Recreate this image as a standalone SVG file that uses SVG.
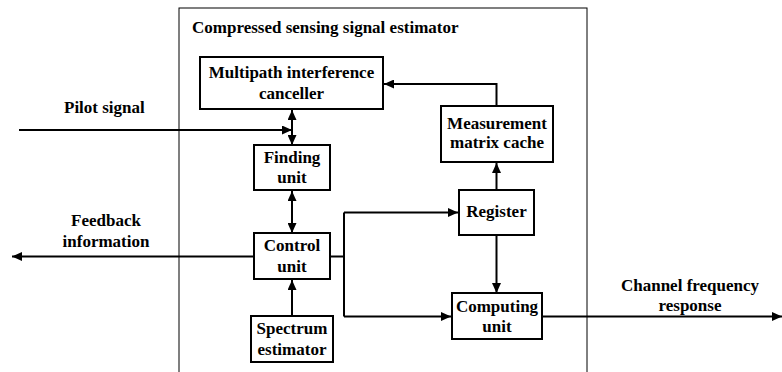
<svg xmlns="http://www.w3.org/2000/svg" width="782" height="372" viewBox="0 0 782 372">
<style>
text{font-family:"Liberation Serif","Times New Roman",serif;font-weight:bold;font-size:17px;fill:#000}
.c{text-anchor:middle}
.box{fill:#fff;stroke:#000;stroke-width:2}
.ln{fill:none;stroke:#000;stroke-width:2}
</style>
<defs>
<marker id="ah" markerUnits="userSpaceOnUse" markerWidth="11" markerHeight="9" refX="10" refY="4.5" orient="auto-start-reverse">
<path d="M0,0 L10,4.5 L0,9 z" fill="#000"/>
</marker>
</defs>
<rect width="782" height="372" fill="#fff"/>
<g id="estimator">
<rect x="179" y="8" width="408" height="380" fill="none" stroke="#000" stroke-width="1"/>
<text x="192" y="33">Compressed sensing signal estimator</text>
</g>
<g id="connectors">
<path class="ln" d="M19,130 H292" marker-end="url(#ah)"/>
<path class="ln" d="M292,110 V145" marker-start="url(#ah)" marker-end="url(#ah)"/>
<path class="ln" d="M292,191 V233" marker-start="url(#ah)" marker-end="url(#ah)"/>
<path class="ln" d="M254,256.5 H12" marker-end="url(#ah)"/>
<path class="ln" d="M292,316 V280" marker-end="url(#ah)"/>
<path class="ln" d="M331,256.5 H344"/>
<path class="ln" d="M344,212.5 V316.5"/>
<path class="ln" d="M344,212.5 H458" marker-end="url(#ah)"/>
<path class="ln" d="M344,316.5 H451" marker-end="url(#ah)"/>
<path class="ln" d="M496.5,190 V163" marker-end="url(#ah)"/>
<path class="ln" d="M496.5,106 V84 H384" marker-end="url(#ah)"/>
<path class="ln" d="M496.5,235 V293" marker-end="url(#ah)"/>
<path class="ln" d="M542,316.5 H782" marker-end="url(#ah)"/>
</g>
<g id="multipath">
<rect class="box" x="200" y="57" width="183" height="52"/>
<text class="c" x="291.5" y="78">Multipath interference</text>
<text class="c" x="291.5" y="99">canceller</text>
</g>
<g id="finding">
<rect class="box" x="254" y="145" width="76" height="45"/>
<text class="c" x="292" y="163">Finding</text>
<text class="c" x="292" y="183">unit</text>
</g>
<g id="control">
<rect class="box" x="254" y="233" width="76" height="46"/>
<text class="c" x="292" y="251">Control</text>
<text class="c" x="292" y="272">unit</text>
</g>
<g id="spectrum">
<rect class="box" x="251" y="316" width="82" height="46"/>
<text class="c" x="292" y="334">Spectrum</text>
<text class="c" x="292" y="355">estimator</text>
</g>
<g id="measurement">
<rect class="box" x="441" y="106" width="112" height="56"/>
<text class="c" x="497" y="129">Measurement</text>
<text class="c" x="497" y="148">matrix cache</text>
</g>
<g id="register">
<rect class="box" x="459" y="190" width="75" height="45"/>
<text class="c" x="496.5" y="217">Register</text>
</g>
<g id="computing">
<rect class="box" x="452" y="293" width="90" height="46"/>
<text class="c" x="497" y="312">Computing</text>
<text class="c" x="497" y="332">unit</text>
</g>
<g id="labels">
<text x="64" y="113">Pilot signal</text>
<text class="c" x="106" y="226">Feedback</text>
<text class="c" x="106" y="247">information</text>
<text class="c" x="690" y="291">Channel frequency</text>
<text class="c" x="690" y="311">response</text>
</g>
</svg>
